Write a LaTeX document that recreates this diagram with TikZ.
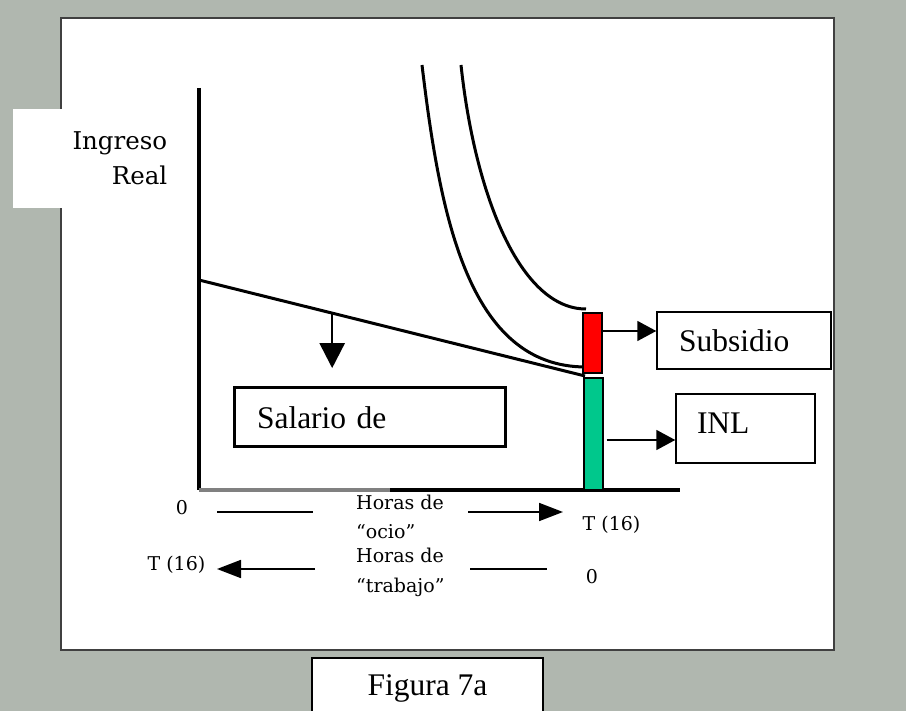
\documentclass[tikz,border=0pt]{standalone}
\usepackage{fontspec}
\setmainfont{Liberation Serif}
\newfontfamily\axisfont{DejaVu Serif}
\usetikzlibrary{arrows.meta,calc}
\definecolor{panelgray}{RGB}{176,183,175}
\definecolor{subsred}{RGB}{255,0,0}
\definecolor{inlgreen}{RGB}{0,200,140}

\begin{document}
\begin{tikzpicture}[x=1pt,y=-1pt]
%\draw[help lines] (0,0) grid[step=50] (906,711);

\tikzset{
big tip/.style={-{Triangle[length=19pt,width=20pt]}, line width=1.8pt},
label box/.style={draw=black, line width=1.5pt, fill=white, rectangle, align=left,
  font=\fontsize{31.5}{36}\selectfont},
axis text/.style={font=\axisfont\fontsize{19}{29.5}\selectfont, inner sep=0pt},
bar/.style={draw=black, line width=1.2pt, minimum width=19pt, inner sep=0pt}
}

\useasboundingbox[fill=panelgray] (0,0) rectangle (906,711);
\draw[fill=white, draw=black!75, line width=1.8pt] (61,18) rectangle (834,650);

\node[fill=white, anchor=north west, minimum height=99pt, text width=154pt, inner xsep=0pt,
  align=right, font=\axisfont\fontsize{24.5}{35}\selectfont] (ingreso) at (13,109) {Ingreso\\Real};

% ejes
\coordinate (origin) at (199,490);
\coordinate (y-top) at (199,88);
\coordinate (x-mid) at (390,490);
\coordinate (x-end) at (680,490);
\draw[line width=4pt] (y-top) -- (origin);
\draw[line width=3.5pt, gray] (origin) -- (x-mid);
\draw[line width=3.5pt] (x-mid) -- (x-end);

% curvas de indiferencia
\draw[line width=3pt] (422,65) .. controls (440,215) and (468,367) .. (586,367);
\draw[line width=3pt] (461,65) .. controls (475,195) and (520,309) .. (586,309);

% restriccion
\coordinate (w-max) at (199,280);
\coordinate (w-end) at (585,376);
\draw[line width=3pt] (w-max) -- (w-end);
\coordinate (w-cut) at ($(w-max)!0.345!(w-end)$);
\coordinate (w-drop) at ($(w-cut)+(0,55)$);
\draw[-{Triangle[length=25pt,width=25pt]}, line width=2.5pt] (w-cut) -- (w-drop);

\node[bar, fill=subsred, minimum height=60pt] (subsidio-bar) at (592.5,343) {};
\node[bar, fill=inlgreen, minimum height=112pt] (inl-bar) at (593.5,434) {};

\node[label box, text width=130pt, inner xsep=22pt, minimum height=57pt] (subsidio) at (744,340.5) {Subsidio};
\node[label box, text width=97pt, inner xsep=21pt, minimum height=69pt, text depth=11pt] (inl) at (745.5,428.5) {INL};
\node[label box, line width=3pt, text width=225pt, inner xsep=23pt, minimum height=59pt] (salario) at (369.5,417.5) {Salario de};
\node[label box, line width=1.2pt, minimum width=231pt, minimum height=60pt, align=center] (figura) at (427.5,688) {Figura 7a};

\draw[big tip] ([yshift=12pt]subsidio-bar.east) -- ([yshift=9.5pt]subsidio.west);
\draw[big tip] ([xshift=3pt,yshift=-6pt]inl-bar.east) -- ([yshift=-11.5pt]inl.west);

% horas
\node[axis text] (zero-ocio) at (182,508) {0};
\node[axis text, anchor=west, align=left] (horas-ocio) at (356,517) {Horas de\\“ocio”};
\node[axis text] (t-ocio) at (611.5,525) {T (16)};
\node[axis text] (t-trabajo) at (176.5,565) {T (16)};
\node[axis text, anchor=west, align=left] (horas-trabajo) at (356,572.5) {Horas de\\“trabajo”};
\node[axis text] (zero-trabajo) at (592,577) {0};

\coordinate (ocio-a) at (217,512);
\coordinate (ocio-b) at (313,512);
\coordinate (ocio-c) at (468,512);
\coordinate (ocio-d) at (563,512);
\coordinate (trabajo-a) at (315,569);
\coordinate (trabajo-b) at (217,569);
\coordinate (trabajo-c) at (470,569);
\coordinate (trabajo-d) at (547,569);
\draw[line width=1.8pt] (ocio-a) -- (ocio-b);
\draw[-{Triangle[length=24pt,width=18pt]}, line width=1.8pt] (ocio-c) -- (ocio-d);
\draw[-{Triangle[length=24pt,width=18pt]}, line width=1.8pt] (trabajo-a) -- (trabajo-b);
\draw[line width=1.8pt] (trabajo-c) -- (trabajo-d);

\end{tikzpicture}
\end{document}
